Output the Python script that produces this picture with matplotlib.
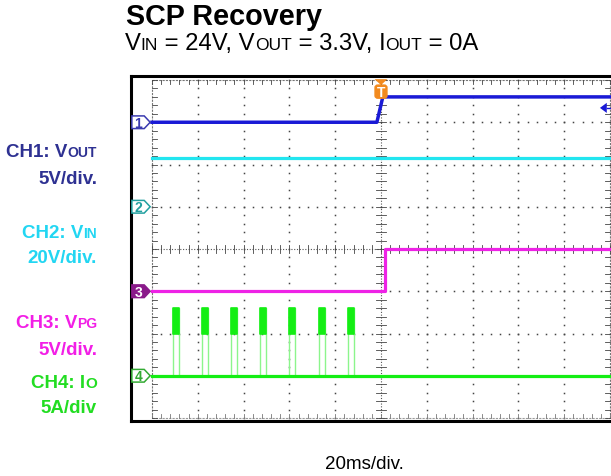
import matplotlib
matplotlib.use("Agg")
import matplotlib.pyplot as plt
from matplotlib.patches import Polygon, FancyBboxPatch
import numpy as np

plt.rcParams['font.family'] = ['Liberation Sans', 'DejaVu Sans']

W, H = 611, 477

# scope settings
time_per_div = 20          # ms/div
ch_scale = [5, 20, 5, 5]   # V/div, V/div, V/div, A/div
ch_ref = [7, 5, 3, 1]      # ground marker of each channel, in divisions

# CH1: Vout (V)
vout_t = [0, 98.2, 100.8, 200]
vout_v = [0, 0, 3.0, 3.0]
# CH2: Vin (V)
vin_t = [0, 200]
vin_v = [23, 23]
# CH3: PG (V)
vpg_t = [0, 101.6, 101.6, 200]
vpg_v = [0, 0, 5, 5]
# CH4: Io hiccup pulses (ms, A)
pulse_start = [9.2, 21.8, 34.5, 47.2, 59.8, 72.9, 85.6]
pulse_width = 2.6
pulse_peak = 8.0
pulse_floor = 5.0

trace_colors = ['#1a1ad6', '#22e6f0', '#ee22e6', '#14ee14']
label_colors = ['#2e3192', '#22d6f2', '#f21ee6', '#22dd22']
marker_colors = ['#3a3ab0', '#22a0a0', '#8a1a8a', '#33aa33']

fig = plt.figure(figsize=(W / 100, H / 100), dpi=100)
renderer = fig.canvas.get_renderer()

# axes in division units: grid 152..610 px wide, 81..419 px tall
ax = fig.add_axes([131 / W, (H - 422) / H, (613 - 131) / W, (422 - 77) / H])
ax.set_xlim((131 - 152) / 45.8, (613 - 152) / 45.8)
ax.set_ylim((419 - 422) / 42.25, (419 - 77) / 42.25)
ax.set_xticks([])
ax.set_yticks([])
for side in ['left', 'top', 'bottom']:
    ax.spines[side].set_linewidth(2.2)
ax.spines['right'].set_visible(False)

# graticule
dot_y = np.arange(0, 8.01, 0.2)
dot_x = np.arange(0, 10.01, 0.2)
for gx in range(1, 10):
    if gx != 5:
        ax.plot([gx] * len(dot_y), dot_y, ls='none', marker='s', ms=1.1, color='#444444', mew=0)
for gy in range(1, 8):
    if gy != 4:
        ax.plot(dot_x, [gy] * len(dot_x), ls='none', marker='s', ms=1.1, color='#444444', mew=0)
ax.plot([5, 5], [0, 8], color='#555555', lw=0.8, ls=(0, (1, 1.5)))
ax.plot([0, 10], [4, 4], color='#555555', lw=0.8, ls=(0, (1, 1.5)))
ax.plot([0, 0], [0, 8], color='#777777', lw=0.8, ls=(0, (2, 1)))
ax.plot([10, 10], [0, 8], color='#777777', lw=0.8, ls=(0, (2, 1)))
ax.plot([0, 10], [8, 8], color='#777777', lw=0.8, ls=(0, (2, 1)))
ax.plot([0, 10], [0, 0], color='#999999', lw=0.8, ls=(0, (2, 1)))
tx = 0.1
ty = 0.09
for v in dot_x:
    ax.plot([v, v], [4 - ty, 4 + ty], color='#444444', lw=0.6)
    ax.plot([v, v], [8, 8 - ty], color='#444444', lw=0.6)
    ax.plot([v, v], [0, ty], color='#777777', lw=0.6)
for v in dot_y:
    ax.plot([5 - tx, 5 + tx], [v, v], color='#444444', lw=0.6)
    ax.plot([0, tx], [v, v], color='#444444', lw=0.6)
    ax.plot([10, 10 - tx], [v, v], color='#444444', lw=0.6)

def to_div(t, v, ch):
    return np.asarray(t) / time_per_div, ch_ref[ch] + np.asarray(v) / ch_scale[ch]

# traces
x, y = to_div(vin_t, vin_v, 1)
ax.plot(x, y, color=trace_colors[1], lw=2.3, zorder=5)
x, y = to_div(vout_t, vout_v, 0)
ax.plot(x, y, color=trace_colors[0], lw=2.5, zorder=6)
x, y = to_div(vpg_t, vpg_v, 2)
ax.plot(x, y, color=trace_colors[2], lw=2.3, zorder=6)

io_t = [0]
io_v = [0]
for s in pulse_start:
    io_t += [s, s, s + pulse_width, s + pulse_width]
    io_v += [0, pulse_peak, pulse_peak, 0]
io_t.append(200)
io_v.append(0)
x, y = to_div(io_t, io_v, 3)
ax.plot(x, y, color='#8cf58c', lw=1.0, zorder=5)
x, y = to_div([0, 200], [0, 0], 3)
ax.plot(x, y, color=trace_colors[3], lw=2.3, zorder=6)
for s in pulse_start:
    x0, y0 = to_div([s, s + pulse_width], [pulse_floor, pulse_floor], 3)
    _, y1 = to_div([s, s + pulse_width], [pulse_peak, pulse_peak], 3)
    ax.fill_between(x0, y0, y1, color=trace_colors[3], lw=1.2, edgecolor=trace_colors[3], zorder=6)

# channel ground markers
for ch in range(4):
    r = ch_ref[ch]
    h = 0.15
    pts = [(-0.44, r - h), (-0.17, r - h), (-0.04, r), (-0.17, r + h), (-0.44, r + h)]
    filled = ch == 2
    ax.add_patch(Polygon(pts, closed=True, facecolor=marker_colors[ch] if filled else 'white',
                         edgecolor=marker_colors[ch], lw=1.1, zorder=8, clip_on=False))
    ax.text(-0.3, r - 0.01, str(ch + 1), ha='center', va='center', fontsize=10, weight='bold',
            color='white' if filled else marker_colors[ch], zorder=9)

# trigger position marker
ax.add_patch(FancyBboxPatch((4.87, 7.57), 0.26, 0.31, boxstyle='round,pad=0,rounding_size=0.06',
                            facecolor='#f28a1e', edgecolor='#f28a1e', zorder=9))
ax.add_patch(Polygon([(4.86, 8.02), (5.14, 8.02), (5.0, 7.88)], closed=True,
                     facecolor='#f28a1e', edgecolor='none', zorder=9))
ax.text(5.0, 7.72, 'T', ha='center', va='center', fontsize=10, weight='bold', color='white', zorder=10)

# trigger level marker
ax.add_patch(Polygon([(9.78, 7.34), (9.93, 7.46), (9.93, 7.22)], closed=True,
                     facecolor=trace_colors[0], edgecolor='none', zorder=9))
ax.plot([9.93, 10.05], [7.34, 7.34], color=trace_colors[0], lw=1.0, zorder=9)


def runs(x, y, parts, color, weight, ha='left'):
    seq = parts if ha == 'left' else parts[::-1]
    cur = x
    for s, size in seq:
        t = fig.text(cur / W, 1 - y / H, s, fontsize=size, color=color, weight=weight,
                     ha=ha, va='baseline')
        w = t.get_window_extent(renderer).width
        cur = cur + w if ha == 'left' else cur - w


fig.text(126 / W, 1 - 25 / H, 'SCP Recovery', fontsize=20.7, weight='bold', va='baseline')
runs(125, 50, [('V', 17.2), ('IN', 12.5), (' = 24V, V', 17.2), ('OUT', 12.5), (' = 3.3V, I', 17.2),
               ('OUT', 12.5), (' = 0A', 17.2)], 'black', 'normal')

lab = 13.5
sub = 10
runs(97, 157, [('CH1: V', lab), ('OUT', sub)], label_colors[0], 'bold', ha='right')
runs(97, 184, [('5V/div.', lab)], label_colors[0], 'bold', ha='right')
runs(97, 238, [('CH2: V', lab), ('IN', sub)], label_colors[1], 'bold', ha='right')
runs(97, 263, [('20V/div.', lab)], label_colors[1], 'bold', ha='right')
runs(97, 328, [('CH3: V', lab), ('PG', sub)], label_colors[2], 'bold', ha='right')
runs(97, 355, [('5V/div.', lab)], label_colors[2], 'bold', ha='right')
runs(97, 388, [('CH4: I', lab), ('O', sub + 1)], label_colors[3], 'bold', ha='right')
runs(97, 413, [('5A/div', lab)], label_colors[3], 'bold', ha='right')

fig.text(364 / W, 1 - 469 / H, '20ms/div.', fontsize=13.5, ha='center', va='baseline')

fig.savefig('out.png', dpi=100)
